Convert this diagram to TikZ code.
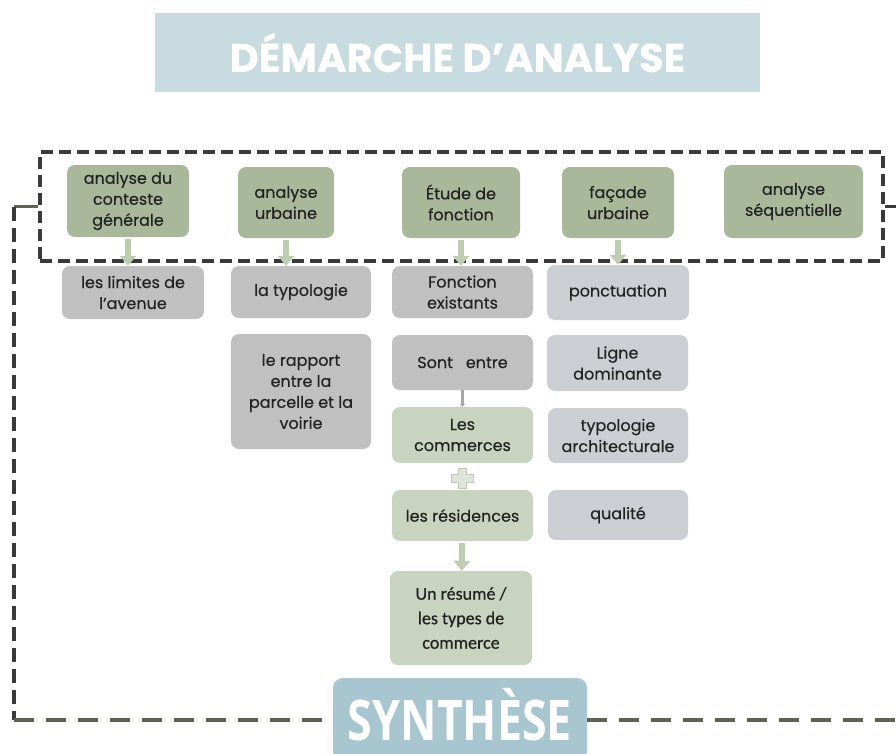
\documentclass[tikz,border=0pt]{standalone}
\usepackage{fontspec}
\setmainfont{Poppins}[FakeBold=0.4]
\newfontfamily\resumefont{Carlito}[FakeBold=0.6]
\newfontfamily\synthfont{Open Sans}
\usetikzlibrary{arrows.meta}

\definecolor{titleblue}{HTML}{C8DBE1}
\definecolor{synthblue}{HTML}{A8C6D0}
\definecolor{topgreen}{HTML}{A9B89A}
\definecolor{leafgreen}{HTML}{C9D4C0}
\definecolor{arrowgreen}{HTML}{BFCCB2}
\definecolor{boxgrey}{HTML}{C0C0C0}
\definecolor{palegrey}{HTML}{CBCED2}
\definecolor{framegrey}{HTML}{3A3A3A}
\definecolor{backgreen}{HTML}{5B6650}
\definecolor{textdark}{HTML}{222222}

\tikzset{
	box/.style={rounded corners=8pt, align=center, inner sep=2pt, text=textdark,
		font=\fontsize{16}{21}\selectfont},
	topbox/.style={box, fill=topgreen},
	greybox/.style={box, fill=boxgrey},
	palebox/.style={box, fill=palegrey},
	leafbox/.style={box, fill=leafgreen},
	blockarrow/.style={draw=arrowgreen, line width=6pt, shorten <=2pt,
		-{Triangle[length=10pt,width=16pt]}},
	thinarrow/.style={draw=gray!70, line width=2.5pt, -{Triangle[length=3pt,width=5pt]}},
	framebox/.style={draw=framegrey, line width=4pt, dash pattern=on 12pt off 6pt},
	stubline/.style={draw=backgreen, line width=3pt},
	backline/.style={draw=framegrey, line width=3.5pt, dash pattern=on 14pt off 7pt},
	backlinegreen/.style={draw=backgreen, line width=4pt, dash pattern=on 20pt off 12pt}
}

\begin{document}
\begin{tikzpicture}[x=1pt, y=-1pt]
	\useasboundingbox (0,0) rectangle (896,753);

	%title
		\node[fill=titleblue, minimum width=605pt, minimum height=79pt, text=white,
			font=\fontsize{40}{44}\bfseries] (title) at (457.5, 52.5) {DÉMARCHE D’ANALYSE};

	%frame around the first level
		\node[framebox, minimum width=843pt, minimum height=109pt] (frame) at (461.5, 206.5) {};

		\node[topbox, minimum width=122pt, minimum height=72pt] (contexte) at (128, 201) {analyse du\\conteste\\générale};
		\node[topbox, minimum width=96pt, minimum height=71pt] (urbaine) at (286, 202.5) {analyse\\urbaine};
		\node[topbox, minimum width=118pt, minimum height=71pt] (fonction) at (461, 202.5) {Étude de\\fonction};
		\node[topbox, minimum width=112pt, minimum height=71pt] (facade) at (618, 202.5) {façade\\urbaine};
		\node[topbox, minimum width=139pt, minimum height=73pt] (sequence) at (793.5, 201.5) {analyse\\séquentielle};

	%second level
		\node[greybox, minimum width=142pt, minimum height=53pt] (limites) at (133, 292.5) {les limites de\\l’avenue};
		\node[greybox, minimum width=140pt, minimum height=52pt] (typologie) at (301, 292) {la typologie};
		\node[greybox, minimum width=140pt, minimum height=115pt] (rapport) at (301, 391.5) {le rapport\\entre la\\parcelle et la\\voirie};
		\node[greybox, minimum width=141pt, minimum height=52pt] (existants) at (462.5, 292) {Fonction\\existants};
		\node[greybox, minimum width=141pt, minimum height=55pt] (sont) at (462.5, 362.5) {Sont\ \ \ entre};
		\node[leafbox, minimum width=141pt, minimum height=56pt] (commerces) at (462.5, 435) {Les\\commerces};
		\node[leafbox, minimum width=141pt, minimum height=51pt] (residences) at (462.5, 515.5) {les résidences};
		\node[leafbox, minimum width=142pt, minimum height=94pt,
			font=\resumefont\fontsize{18}{24.5}\selectfont] (resume) at (461, 618) {Un résumé /\\les types de\\commerce};
		\node[palebox, minimum width=142pt, minimum height=55pt] (ponctuation) at (618, 292.5) {ponctuation};
		\node[palebox, minimum width=141pt, minimum height=56pt] (ligne) at (617.5, 363) {Ligne\\dominante};
		\node[palebox, minimum width=140pt, minimum height=55pt] (archi) at (618, 435.5) {typologie\\architecturale};
		\node[palebox, minimum width=140pt, minimum height=50pt] (qualite) at (618, 515) {qualité};

	%synthesis
		\node[fill=synthblue, rounded corners=10pt, minimum width=254pt, minimum height=84pt, text=white,
			text height=40pt, text depth=0pt,
			font=\synthfont\fontsize{56}{60}\bfseries] (synth) at (460, 720) {\scalebox{0.8}[1]{SYNTHÈSE}};

	%arrows
		\draw[blockarrow] (contexte.south) -- (contexte.south |- limites.north);
		\draw[blockarrow] (urbaine.south) -- (urbaine.south |- typologie.north);
		\draw[blockarrow] (fonction.south) -- (fonction.south |- existants.north);
		\draw[blockarrow] (facade.south) -- (facade.south |- ponctuation.north);
		\draw[thinarrow] (sont) -- (commerces);
		\draw[blockarrow] (residences) -- (resume);
		\filldraw[draw=arrowgreen!80!black!60, fill=leafgreen!60, line width=0.8pt]
			(458,468) -- (466,468) -- (466,474) -- (473,474) -- (473,482) -- (466,482) -- (466,488)
			-- (458,488) -- (458,482) -- (451,482) -- (451,474) -- (458,474) -- cycle;

	%loop back to the synthesis
		\coordinate (lefttop) at (14, 206.5);
		\coordinate (leftbottom) at (14, 720);
		\coordinate (righttop) at (896, 206.5);
		\coordinate (rightbottom) at (896, 720);
		\draw[stubline] (frame.west) -- (lefttop);
		\draw[backline] (lefttop) -- (leftbottom);
		\draw[backlinegreen] (leftbottom) -- (synth.west);
		\draw[stubline, draw=framegrey] (frame.east) -- (righttop);
		\draw[backlinegreen] (synth.east) -- (rightbottom);
\end{tikzpicture}
\end{document}
